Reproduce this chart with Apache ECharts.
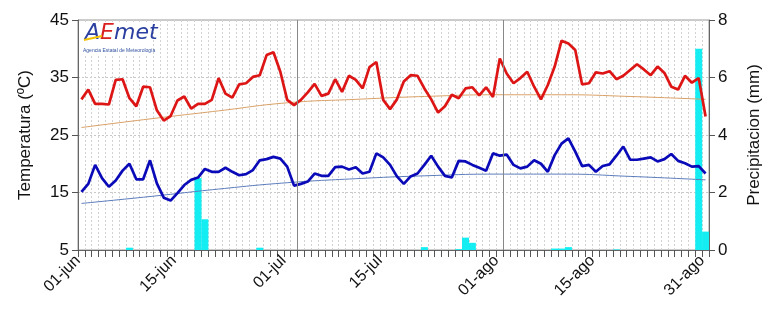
<!DOCTYPE html>
<html>
<head>
<meta charset="utf-8">
<script src="https://cdn.jsdelivr.net/npm/echarts/dist/echarts.min.js"></script>
<style>
html,body{margin:0;padding:0;background:#fff;}
#chart{width:771px;height:313px;}
</style>
</head>
<body>
<div id="chart"></div>
<script>
// etiquetas del eje x (dia desde 01-jun)
var tickLabels = ['01-jun', '15-jun', '01-jul', '15-jul', '01-ago', '15-ago', '31-ago'];
var tickPos = [0, 14, 30, 44, 61, 75, 91];
var monthLines = [32, 62];

// temperatura maxima diaria
var tmax = [31.2, 32.9, 30.4, 30.4, 30.3, 34.6, 34.7, 31.4, 30.0, 33.4,
	33.3, 29.3, 27.5, 28.3, 31.0, 31.7, 29.6, 30.4, 30.4, 31.1,
	34.9, 32.2, 31.5, 33.8, 34.0, 35.1, 35.4, 38.9, 39.4, 36.0,
	31.1, 30.2, 31.1, 32.4, 33.9, 31.8, 32.2, 34.7, 32.5, 35.3,
	34.6, 33.1, 36.8, 37.7, 31.1, 29.5, 31.2, 34.3, 35.4, 35.3,
	33.1, 31.2, 28.9, 30.0, 32.0, 31.4, 33.1, 33.3, 31.9, 33.3,
	31.6, 38.3, 35.7, 34.0, 34.9, 36.0, 33.4, 31.2, 33.7, 36.9,
	41.4, 40.9, 39.8, 33.8, 34.0, 35.9, 35.7, 36.1, 34.7, 35.3,
	36.3, 37.3, 36.4, 35.4, 36.9, 35.8, 33.4, 32.9, 35.3, 34.1,
	34.9, 28.2];
// temperatura minima diaria
var tmin = [15.1, 16.5, 19.8, 17.5, 16.0, 17.1, 18.8, 20.0, 17.3, 17.3,
	20.6, 16.6, 14.1, 13.6, 14.9, 16.3, 17.2, 17.6, 19.1, 18.6,
	18.6, 19.3, 18.6, 18.0, 18.2, 18.9, 20.6, 20.8, 21.2, 20.9,
	19.5, 16.2, 16.5, 16.9, 18.3, 17.9, 17.9, 19.4, 19.5, 19.0,
	19.4, 18.3, 18.6, 21.8, 21.1, 19.8, 17.8, 16.5, 17.8, 18.3,
	19.8, 21.4, 19.5, 17.9, 17.6, 20.5, 20.4, 19.8, 19.3, 18.8,
	21.8, 21.4, 21.6, 19.8, 19.2, 19.5, 20.6, 20.0, 18.6, 21.5,
	23.5, 24.4, 22.1, 19.6, 19.8, 18.6, 19.6, 19.9, 21.4, 23.0,
	20.7, 20.7, 20.9, 21.1, 20.4, 20.8, 21.7, 20.5, 20.1, 19.5,
	19.6, 18.3];

// valores normales (leidos cada ~10 dias)
var normDays = [0, 10, 20, 30, 40, 50, 61, 70, 80, 91];
var normMax = [26.3, 27.8, 29.2, 30.6, 31.2, 31.7, 32.0, 32.0, 31.7, 31.2];
var normMin = [13.1, 14.3, 15.6, 16.7, 17.4, 17.9, 18.2, 18.2, 17.8, 17.2];

// precipitacion (mm)
var precipDays = [7, 17, 18, 26, 50, 55, 56, 57, 69, 70, 71, 78, 90, 91];
var precipMm = [0.08, 2.5, 1.07, 0.08, 0.1, 0.03, 0.43, 0.25, 0.05, 0.05, 0.1, 0.02, 7.0, 0.64];

function toPoints(days, vals){
	var out = [];
	for (var i = 0; i < vals.length; i++) {
		out.push([days ? days[i] + 0.5 : i + 0.5, vals[i]]);
	}
	return out;
}

var font = 'Liberation Sans, Arial, sans-serif';
var myChart = echarts.init(document.getElementById('chart'));

var option = {
	animation: false,
	grid: {
		left: 78, right: 59, top: 20, bottom: 63,
		show: true,
		borderColor: '#999',
		borderWidth: 1
	},
	xAxis: {
		type: 'value',
		min: 0,
		max: 92,
		interval: 1,
		axisLine: {lineStyle: {color: '#666'}},
		axisTick: {length: 7, lineStyle: {color: '#555'}},
		splitLine: {show: true, lineStyle: {color: '#d2d2d2', type: [2, 2]}},
		axisLabel: {
			rotate: 45,
			margin: 8,
			color: '#111',
			fontSize: 16,
			fontFamily: font,
			showMinLabel: true,
			formatter: function(v){
				var k = tickPos.indexOf(v);
				return k >= 0 ? tickLabels[k] : '';
			}
		}
	},
	yAxis: [{
		type: 'value',
		min: 5,
		max: 45,
		interval: 10,
		name: 'Temperatura (ºC)',
		nameLocation: 'middle',
		nameGap: 44,
		nameTextStyle: {color: '#111', fontSize: 17, fontFamily: font},
		axisLine: {show: true, lineStyle: {color: '#666'}},
		axisTick: {show: true, length: 6, lineStyle: {color: '#555'}},
		axisLabel: {color: '#111', fontSize: 17, fontFamily: font, margin: 9},
		splitLine: {show: true, lineStyle: {color: '#c8c8c8', type: [2, 2]}}
	}, {
		type: 'value',
		min: 0,
		max: 8,
		interval: 2,
		position: 'right',
		name: 'Precipitacion (mm)',
		nameLocation: 'middle',
		nameGap: 37,
		nameTextStyle: {color: '#111', fontSize: 17, fontFamily: font},
		axisLine: {show: true, lineStyle: {color: '#666'}},
		axisTick: {show: true, length: 6, lineStyle: {color: '#555'}},
		axisLabel: {color: '#111', fontSize: 17, fontFamily: font, margin: 9},
		splitLine: {show: false}
	}],
	graphic: [{
		type: 'rect',
		left: 80, top: 22,
		shape: {width: 70, height: 34},
		style: {fill: '#fff'},
		z: 10
	}, {
		type: 'text',
		left: 85, top: 22,
		style: {
			text: '{b|A}{r|E}{b|met}',
			rich: {
				b: {fill: '#2a3fa0', fontSize: 22, fontStyle: 'italic', fontFamily: 'DejaVu Sans'},
				r: {fill: '#d92020', fontSize: 22, fontStyle: 'italic', fontFamily: 'DejaVu Sans'}
			}
		},
		z: 11
	}, {
		type: 'line',
		shape: {x1: 84, y1: 40, x2: 102, y2: 36},
		style: {stroke: '#f2c200', lineWidth: 2},
		z: 12
	}, {
		type: 'text',
		left: 83, top: 48,
		style: {text: 'Agencia Estatal de Meteorología', fill: '#3050a0', fontSize: 5, fontFamily: font},
		z: 11
	}],
	series: [{
		name: 'normal max',
		type: 'line',
		data: toPoints(normDays, normMax),
		smooth: true,
		showSymbol: false,
		lineStyle: {color: '#d9a066', width: 1}
	}, {
		name: 'normal min',
		type: 'line',
		data: toPoints(normDays, normMin),
		smooth: true,
		showSymbol: false,
		lineStyle: {color: '#5b7cbc', width: 1},
		markLine: {
			silent: true,
			symbol: 'none',
			label: {show: false},
			lineStyle: {color: '#888', type: 'solid', width: 1},
			data: monthLines.map(function(d){ return {xAxis: d}; })
		}
	}, {
		name: 'precipitacion',
		type: 'bar',
		yAxisIndex: 1,
		barWidth: 7,
		data: toPoints(precipDays, precipMm),
		itemStyle: {color: '#14eef2'}
	}, {
		name: 'minima',
		type: 'line',
		data: toPoints(null, tmin),
		showSymbol: false,
		lineStyle: {color: '#0a0ab8', width: 2.7}
	}, {
		name: 'maxima',
		type: 'line',
		data: toPoints(null, tmax),
		showSymbol: false,
		lineStyle: {color: '#dd1515', width: 2.7}
	}]
};

myChart.setOption(option);
</script>
</body>
</html>
